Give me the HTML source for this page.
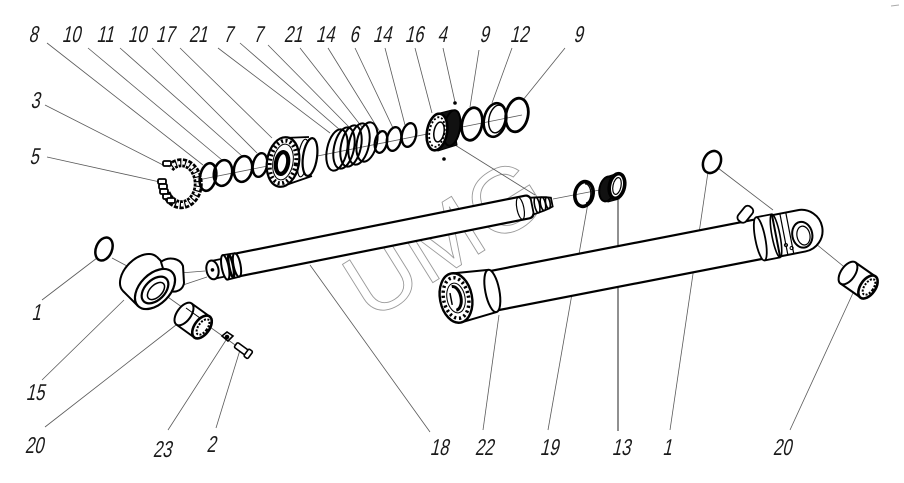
<!DOCTYPE html>
<html><head><meta charset="utf-8"><style>
html,body{margin:0;padding:0;background:#fff;}
svg{display:block;}
.l{font-family:"Liberation Sans",sans-serif;font-size:23px;fill:#1a1a1a;}
</style></head><body>
<svg width="904" height="483" viewBox="0 0 904 483" xmlns="http://www.w3.org/2000/svg">
<rect width="904" height="483" fill="#fff"/>

<!-- watermark -->
<text transform="translate(461,265) rotate(-32)" text-anchor="middle" font-family="Liberation Sans" font-size="92" fill="none" stroke="#9a9a9a" stroke-width="0.9">UMG</text>

<!-- leader lines -->
<g stroke="#5a5a5a" stroke-width="0.8" fill="none">
<line x1="47" y1="43" x2="203" y2="165"/>
<line x1="88" y1="48" x2="222" y2="160"/>
<line x1="120" y1="48" x2="242" y2="156"/>
<line x1="152" y1="48" x2="257" y2="153"/>
<line x1="180" y1="48" x2="272" y2="138"/>
<line x1="218" y1="48" x2="330" y2="133"/>
<line x1="240" y1="43" x2="340" y2="130"/>
<line x1="268" y1="45" x2="350" y2="128"/>
<line x1="300" y1="48" x2="362" y2="127"/>
<line x1="328" y1="48" x2="380" y2="132"/>
<line x1="355" y1="48" x2="393" y2="128"/>
<line x1="385" y1="48" x2="405" y2="125"/>
<line x1="415" y1="48" x2="432" y2="113"/>
<line x1="443" y1="48" x2="455" y2="102"/>
<line x1="479" y1="50" x2="470" y2="107"/>
<line x1="512" y1="48" x2="492" y2="103"/>
<line x1="565" y1="48" x2="523" y2="100"/>
<line x1="45" y1="105" x2="165" y2="166"/>
<line x1="47" y1="157" x2="160" y2="182"/>
<line x1="42" y1="300" x2="97" y2="258"/>
<line x1="42" y1="380" x2="124" y2="300"/>
<line x1="45" y1="427" x2="176" y2="325"/>
<line x1="168" y1="430" x2="228" y2="337"/>
<line x1="216" y1="428" x2="240" y2="350"/>
<line x1="430" y1="432" x2="310" y2="265"/>
<line x1="483" y1="430" x2="499" y2="315"/>
<line x1="548" y1="430" x2="588" y2="203"/>
<line x1="670" y1="430" x2="708" y2="172"/>
<line x1="790" y1="430" x2="853" y2="293"/>
<!-- axis / center lines -->
<line x1="198" y1="180" x2="522" y2="115"/>
<line x1="455" y1="145" x2="535" y2="195"/>
<line x1="553" y1="199" x2="610" y2="188"/>
<line x1="718" y1="168" x2="773" y2="210"/>
<line x1="805" y1="235" x2="848" y2="270"/>
<line x1="112" y1="258" x2="127" y2="266"/>
<line x1="180" y1="273" x2="205" y2="271"/>
<line x1="183" y1="285" x2="207" y2="277"/>
<line x1="165" y1="295" x2="245" y2="352"/>
</g>
<line x1="618" y1="200" x2="618" y2="431" stroke="#222" stroke-width="1"/>

<!-- nut cluster 3/5 -->
<g fill="none">
<path d="M170,168 A17,21 0 1 1 166,193" stroke="#000" stroke-width="9" stroke-dasharray="3.5 1.2"/>
<path d="M170,168 A17,21 0 1 1 166,193" stroke="#fff" stroke-width="3.5" stroke-dasharray="2.3 2.4"/>
<g stroke="#000" stroke-width="1.8" fill="#fff">
<rect x="158" y="179" width="8" height="5" rx="1.5"/>
<rect x="159" y="184" width="8" height="5" rx="1.5"/>
<rect x="160" y="189" width="8" height="5" rx="1.5"/>
<rect x="163" y="194" width="8" height="5" rx="1.5"/>
<rect x="167" y="198" width="8" height="5" rx="1.5"/>
<rect x="163" y="161" width="8" height="5" rx="1.5"/>
</g>
</g>

<!-- rings 8 10 11 10 -->
<g fill="none" stroke="#000">
<ellipse cx="208" cy="177" rx="8" ry="14" stroke-width="2.6" transform="rotate(12 208 177)"/>
<ellipse cx="223" cy="173" rx="9" ry="13" stroke-width="2.6" transform="rotate(12 223 173)"/>
<ellipse cx="243" cy="169" rx="9" ry="13" stroke-width="2.6" transform="rotate(12 243 169)"/>
<ellipse cx="260" cy="165" rx="7" ry="12" stroke-width="2.4" transform="rotate(12 260 165)"/>
</g>

<!-- piston 17 -->
<g stroke="#000">
<path d="M283,138 L309,137 L313,177 L283,187 Z" fill="#fff" stroke="none"/>
<path d="M283,138 L309,137 M283,186 L312,176" stroke-width="1.8" fill="none"/>
<ellipse cx="303" cy="158" rx="5" ry="19" fill="none" stroke-width="1.2" transform="rotate(8 303 158)"/>
<ellipse cx="310" cy="157" rx="7" ry="19" fill="#fff" stroke-width="2.2" transform="rotate(8 310 157)"/>
<ellipse cx="283" cy="162" rx="16" ry="25" fill="#fff" stroke-width="2.2" transform="rotate(10 283 162)"/>
<ellipse cx="283" cy="162" rx="13" ry="21.5" fill="none" stroke-width="4" stroke-dasharray="2 2.5" transform="rotate(10 283 162)"/>
<ellipse cx="283" cy="162" rx="10" ry="18" fill="none" stroke-width="1" transform="rotate(10 283 162)"/>
<ellipse cx="282" cy="163" rx="6" ry="11" fill="#fff" stroke-width="4.2" transform="rotate(10 282 163)"/>
</g>

<!-- rings 7 7 21 21 -->
<g fill="none" stroke="#000" stroke-width="2">
<ellipse cx="337" cy="150" rx="10" ry="21" transform="rotate(12 337 150)"/>
<ellipse cx="344" cy="148" rx="10" ry="21" transform="rotate(12 344 148)"/>
<ellipse cx="351" cy="146" rx="10" ry="21" transform="rotate(12 351 146)"/>
<ellipse cx="359" cy="144" rx="10" ry="21" transform="rotate(12 359 144)"/>
<ellipse cx="367" cy="142" rx="10" ry="20" transform="rotate(12 367 142)"/>
</g>
<!-- 14 6 14 -->
<g fill="none" stroke="#000" stroke-width="2.3">
<ellipse cx="381" cy="142" rx="6" ry="11" transform="rotate(12 381 142)"/>
<ellipse cx="394" cy="139" rx="7" ry="12" transform="rotate(12 394 139)"/>
<ellipse cx="409" cy="135" rx="7" ry="12" transform="rotate(12 409 135)"/>
</g>

<!-- 16 -->
<g stroke="#000">
<path d="M436,114 L452,110 L457,145 L438,151 Z" fill="#111"/>
<ellipse cx="452" cy="128" rx="8" ry="18" fill="#111" stroke-width="2" transform="rotate(10 452 128)"/>
<ellipse cx="437" cy="132" rx="10" ry="18.5" fill="#fff" stroke-width="2.6" transform="rotate(10 437 132)"/>
<ellipse cx="437" cy="132" rx="7.5" ry="15" fill="none" stroke-width="1.8" stroke-dasharray="2 2" transform="rotate(10 437 132)"/>
<ellipse cx="439" cy="132" rx="5" ry="10" fill="#fff" stroke-width="1.5" transform="rotate(10 439 132)"/>
</g>
<circle cx="455" cy="103" r="1.8" fill="#000"/>
<circle cx="444" cy="159" r="1.8" fill="#000"/>

<!-- 9 12 9 -->
<g fill="none" stroke="#000">
<ellipse cx="472" cy="124" rx="10" ry="16.5" stroke-width="2.8" transform="rotate(12 472 124)"/>
<ellipse cx="495" cy="120" rx="11" ry="17" stroke-width="2.6" transform="rotate(12 495 120)"/>
<ellipse cx="497" cy="119" rx="8" ry="14" stroke-width="1.4" transform="rotate(12 497 119)"/>
<ellipse cx="517" cy="115" rx="11" ry="17" stroke-width="2.8" transform="rotate(12 517 115)"/>
</g>

<!-- piston rod 18 -->
<g transform="translate(237,265) rotate(-11.3)" stroke="#000">
<path d="M0,-11.5 L296,-11.5 Q302,-11.5 302,0 Q302,11.5 296,11.5 L0,11.5 Z" fill="#fff" stroke="none"/>
<path d="M0,-11.5 L296,-11.5 Q302,-11.5 302,0 Q302,11.5 296,11.5 L0,11.5" fill="none" stroke-width="2.2"/>
<ellipse cx="289" cy="0" rx="3.5" ry="11" fill="none" stroke-width="1.2"/>
<path d="M301,-8.5 L311,-7 L316,-6 L321,-4.5 L321,4.5 L316,6 L311,7 L301,8.5 Z" fill="#fff" stroke-width="1.8"/>
<ellipse cx="306" cy="0" rx="2.5" ry="8" fill="none" stroke-width="1.6"/>
<ellipse cx="312" cy="0" rx="2.5" ry="6.8" fill="none" stroke-width="1.6"/>
<ellipse cx="317" cy="0" rx="2.2" ry="5.8" fill="none" stroke-width="1.6"/>
<rect x="-12" y="-12.5" width="12" height="25" fill="#fff" stroke="none"/>
<path d="M-12,-12.5 L0,-12 M-12,12.5 L0,12" stroke-width="1.8" fill="none"/>
<ellipse cx="-6" cy="0" rx="2" ry="11.5" fill="none" stroke-width="2.5"/>
<ellipse cx="0" cy="0" rx="3.5" ry="12" fill="none" stroke-width="2"/>
<rect x="-25" y="-9" width="13" height="18" fill="#fff" stroke="none"/>
<path d="M-25,-9 L-12,-9 M-25,9 L-12,9" stroke-width="1.8" fill="none"/>
<ellipse cx="-12" cy="0" rx="3.5" ry="12.5" fill="#fff" stroke-width="2"/>
<ellipse cx="-25" cy="0" rx="6" ry="9.5" fill="#fff" stroke-width="2"/>
<circle cx="-25" cy="0" r="1.8" fill="#000" stroke="none"/>
</g>

<!-- barrel -->
<g transform="translate(456,298) rotate(-11)" stroke="#000">
<path d="M36,-20 L312,-20 L312,20 L36,20 Z" fill="#fff" stroke="none"/>
<path d="M30,-20 L312,-20 M36,20 L312,20" stroke-width="2.2" fill="none"/>
<g transform="translate(300,-27) rotate(-40)"><rect x="-9" y="-5" width="18" height="10" rx="4" fill="#fff" stroke-width="1.8"/></g>
<path d="M310,-22 L326,-22 L326,22 L310,22 Z" fill="#fff" stroke="none"/>
<path d="M310,-22 L326,-22 M310,22 L326,22" stroke-width="1.8" fill="none"/>
<ellipse cx="310" cy="0" rx="5" ry="22" fill="#fff" stroke-width="1.8"/>
<path d="M326,-21 L352,-21 A21,21 0 0 1 352,21 L326,21 Z" fill="#fff" stroke-width="2"/>
<ellipse cx="326" cy="0" rx="4" ry="22" fill="none" stroke-width="1.6"/>
<path d="M334,-21 L334,21 M340,-21 L340,21" stroke-width="1.2" fill="none"/>
<ellipse cx="352" cy="4" rx="10" ry="13" fill="#fff" stroke-width="2"/>
<ellipse cx="353" cy="5" rx="6.5" ry="9.5" fill="none" stroke-width="1.2"/>
<circle cx="334" cy="11" r="1.6" fill="none" stroke-width="1"/>
<circle cx="339" cy="15" r="1.6" fill="none" stroke-width="1"/>
<path d="M0,-25 L37,-21.5 L37,21.5 L0,25 Z" fill="#fff" stroke="none"/>
<path d="M0,-25 L37,-21.5 M0,25 L37,21.5" stroke-width="2" fill="none"/>
<ellipse cx="37" cy="0" rx="7" ry="21.5" fill="#fff" stroke-width="2"/>
<ellipse cx="0" cy="0" rx="16" ry="25" fill="#fff" stroke-width="2.4"/>
<ellipse cx="0" cy="0" rx="12.5" ry="20.5" fill="none" stroke-width="3.5" stroke-dasharray="2.2 2.8"/>
<ellipse cx="0" cy="0" rx="9" ry="15" fill="#fff" stroke-width="1"/>
<path d="M-2,-12 A7,12 0 0 1 -2,12" fill="none" stroke-width="3"/>
<path d="M-5,-6 L-5,6" stroke-width="1.5"/>
</g>

<!-- ring 19 -->
<g stroke="#000" fill="none">
<ellipse cx="584" cy="194" rx="9" ry="12.5" stroke-width="3.6" transform="rotate(12 584 194)"/>
<path d="M585,184 A5,9 0 0 1 586,203" stroke-width="1.2"/>
</g>
<!-- ring 13 -->
<g stroke="#000">
<path d="M606,177 L615,174 L619,199 L608,202 Z" fill="#111"/>
<ellipse cx="607" cy="189" rx="7.5" ry="12.5" fill="#111" stroke-width="2" transform="rotate(12 607 189)"/>
<ellipse cx="617" cy="186" rx="7.5" ry="12.5" fill="#fff" stroke-width="3.6" transform="rotate(12 617 186)"/>
<ellipse cx="617" cy="186" rx="4" ry="8.5" fill="none" stroke-width="1.2" transform="rotate(12 617 186)"/>
</g>

<!-- O-rings 1 -->
<ellipse cx="104" cy="249" rx="8" ry="12" fill="none" stroke="#000" stroke-width="2.5" transform="rotate(22 104 249)"/>
<ellipse cx="712" cy="162" rx="8.5" ry="11.5" fill="none" stroke="#000" stroke-width="2.5" transform="rotate(25 712 162)"/>

<!-- eye 15 -->
<g stroke="#000">
<ellipse cx="140" cy="274" rx="24" ry="15" fill="#fff" stroke-width="2" transform="rotate(-45 140 274)"/>
<path d="M157,257 L172,272 L138,306 L123,291 Z" fill="#fff" stroke="none"/>
<path d="M157,257 L172,272 M123,291 L138,306" stroke-width="2" fill="none"/>
<path d="M161,262 C168,256 180,258 183,266 L184,283 C183,290 176,293 170,291 Z" fill="#fff" stroke-width="2"/>
<ellipse cx="155" cy="289" rx="24" ry="15" fill="#fff" stroke-width="2.2" transform="rotate(-45 155 289)"/>
<ellipse cx="155" cy="290" rx="16" ry="10" fill="#fff" stroke-width="2.2" transform="rotate(-45 155 290)"/>
<ellipse cx="156" cy="291" rx="10.5" ry="6" fill="none" stroke-width="1.5" transform="rotate(-45 156 291)"/>
</g>

<!-- bushing 20 left -->
<g stroke="#000">
<path d="M176.3,324.5 L191.7,303.5 L209.7,316.5 L194.3,337.5 Z" fill="#fff" stroke="none"/>
<ellipse cx="184" cy="314" rx="7" ry="13" fill="#fff" stroke-width="2" transform="rotate(36 184 314)"/>
<path d="M176.3,324.5 L194.3,337.5 M191.7,303.5 L209.7,316.5" stroke-width="2" fill="none"/>
<path d="M186,308 L200,318" stroke-width="1" fill="none"/>
<ellipse cx="202" cy="327" rx="7.5" ry="13" fill="#fff" stroke-width="2.6" transform="rotate(36 202 327)"/>
<ellipse cx="203" cy="327" rx="4.5" ry="9" fill="none" stroke-width="2" stroke-dasharray="2 1.5" transform="rotate(36 203 327)"/>
</g>
<!-- 23 fitting, 2 bolt -->
<g stroke="#000" fill="#fff" stroke-width="1.6">
<path d="M222,336 L227,332 L233,336 L228,341 Z"/>
<circle cx="227" cy="337" r="1.5" fill="#000"/>
<g transform="translate(243,350) rotate(36)">
<rect x="-9" y="-3" width="14" height="6" rx="1.5"/>
<rect x="4" y="-4.5" width="5" height="9" rx="1.5"/>
</g>
</g>

<!-- bushing 20 right -->
<g stroke="#000">
<path d="M840.5,283.5 L855.5,262.5 L875.5,276.5 L860.5,297.5 Z" fill="#fff" stroke="none"/>
<ellipse cx="848" cy="273" rx="7" ry="13" fill="#fff" stroke-width="2" transform="rotate(35 848 273)"/>
<path d="M840.5,283.5 L860.5,297.5 M855.5,262.5 L875.5,276.5" stroke-width="2" fill="none"/>
<ellipse cx="868" cy="287" rx="7.5" ry="13" fill="#fff" stroke-width="2.6" transform="rotate(35 868 287)"/>
<ellipse cx="869" cy="287" rx="4.5" ry="9" fill="none" stroke-width="2" stroke-dasharray="2 1.5" transform="rotate(35 869 287)"/>
</g>

<!-- tiny corner mark -->
<line x1="891" y1="6" x2="899" y2="5" stroke="#aaa" stroke-width="1"/>

<!-- labels -->
<g class="l" text-anchor="middle">
<text transform="translate(33,42) skewX(-13) scale(0.72,1)">8</text>
<text transform="translate(71,42) skewX(-13) scale(0.72,1)">10</text>
<text transform="translate(105,42) skewX(-13) scale(0.72,1)">11</text>
<text transform="translate(137,42) skewX(-13) scale(0.72,1)">10</text>
<text transform="translate(165,42) skewX(-13) scale(0.72,1)">17</text>
<text transform="translate(198,42) skewX(-13) scale(0.72,1)">21</text>
<text transform="translate(228,42) skewX(-13) scale(0.72,1)">7</text>
<text transform="translate(258,42) skewX(-13) scale(0.72,1)">7</text>
<text transform="translate(293,42) skewX(-13) scale(0.72,1)">21</text>
<text transform="translate(325,42) skewX(-13) scale(0.72,1)">14</text>
<text transform="translate(354,42) skewX(-13) scale(0.72,1)">6</text>
<text transform="translate(382,42) skewX(-13) scale(0.72,1)">14</text>
<text transform="translate(414,42) skewX(-13) scale(0.72,1)">16</text>
<text transform="translate(442,42) skewX(-13) scale(0.72,1)">4</text>
<text transform="translate(484,42) skewX(-13) scale(0.72,1)">9</text>
<text transform="translate(519,42) skewX(-13) scale(0.72,1)">12</text>
<text transform="translate(578,42) skewX(-13) scale(0.72,1)">9</text>
<text transform="translate(35,108) skewX(-13) scale(0.72,1)">3</text>
<text transform="translate(34,164) skewX(-13) scale(0.72,1)">5</text>
<text transform="translate(36,320) skewX(-13) scale(0.72,1)">1</text>
<text transform="translate(35,400) skewX(-13) scale(0.72,1)">15</text>
<text transform="translate(34,453) skewX(-13) scale(0.72,1)">20</text>
<text transform="translate(162,457) skewX(-13) scale(0.72,1)">23</text>
<text transform="translate(211,452) skewX(-13) scale(0.72,1)">2</text>
<text transform="translate(439,455) skewX(-13) scale(0.72,1)">18</text>
<text transform="translate(484,455) skewX(-13) scale(0.72,1)">22</text>
<text transform="translate(549,455) skewX(-13) scale(0.72,1)">19</text>
<text transform="translate(621,455) skewX(-13) scale(0.72,1)">13</text>
<text transform="translate(667,455) skewX(-13) scale(0.72,1)">1</text>
<text transform="translate(782,455) skewX(-13) scale(0.72,1)">20</text>
</g>
</svg>
</body></html>
